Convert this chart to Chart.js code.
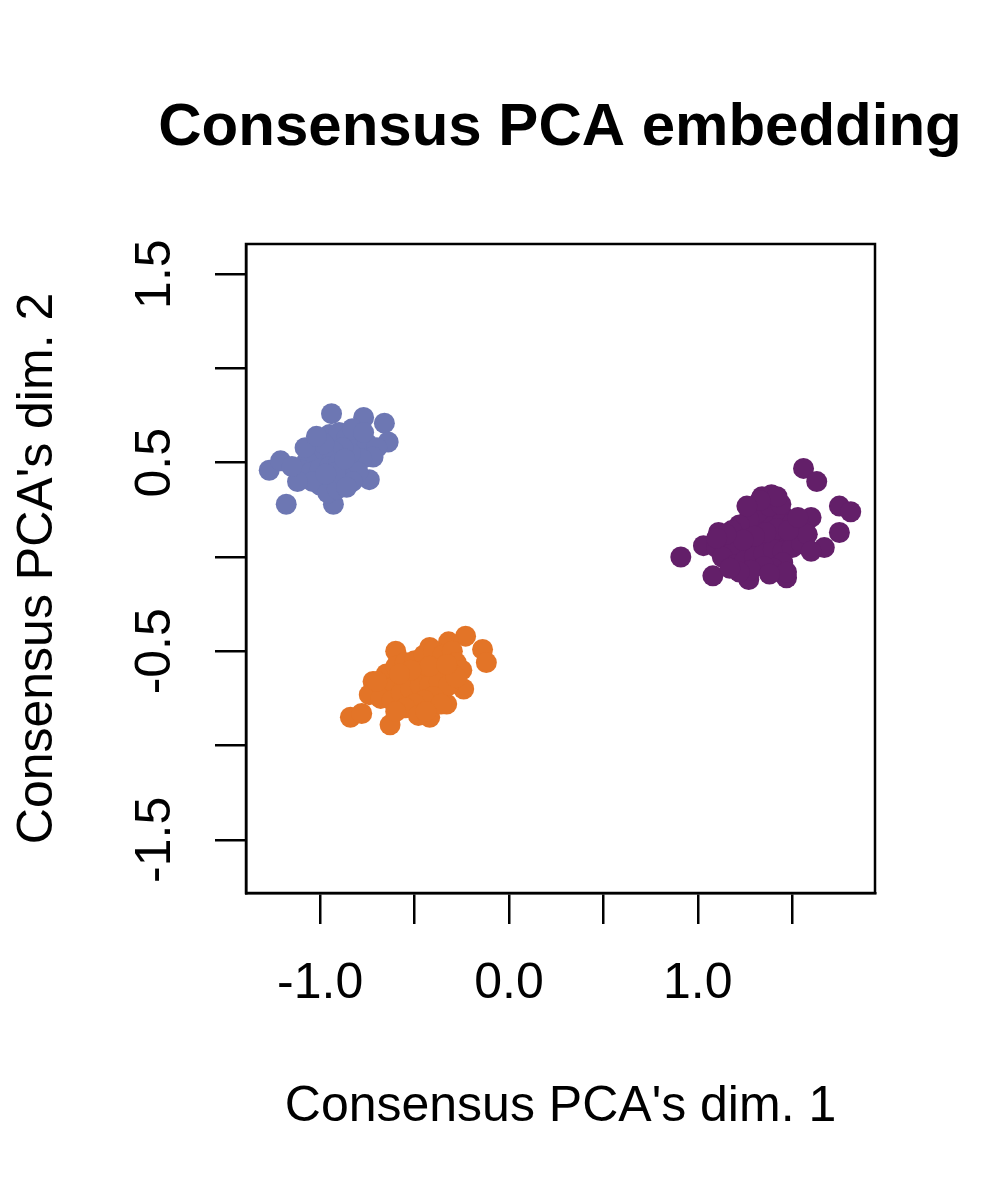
<!DOCTYPE html>
<html>
<head>
<meta charset="utf-8">
<script src="https://cdn.jsdelivr.net/npm/chart.js@4/dist/chart.umd.min.js"></script>
<style>
  html, body { margin: 0; padding: 0; background: #ffffff; }
  #wrap { width: 1000px; height: 1200px; }
</style>
</head>
<body>
<div id="wrap"><canvas id="c" width="1000" height="1200"></canvas></div>
<script>
// ---- data (Consensus PCA dim. 1, dim. 2) ----
const groupNames = ['Group 1', 'Group 2', 'Group 3'];
const groupColors = ['#6D77B3', '#E37427', '#631F69'];

const group1Points = [
  [-0.94, 0.76], [-0.77, 0.74], [-0.66, 0.71], [-0.64, 0.61], [-1.27, 0.46],
  [-1.21, 0.51], [-0.74, 0.41], [-1.18, 0.28], [-0.93, 0.28], [-1.00, 0.62],
  [-0.95, 0.65], [-0.90, 0.66], [-0.86, 0.63], [-0.80, 0.62], [-0.75, 0.60],
  [-0.70, 0.58], [-0.72, 0.53], [-0.78, 0.52], [-0.84, 0.55], [-0.88, 0.58],
  [-0.93, 0.56], [-0.98, 0.54], [-1.03, 0.57], [-1.07, 0.51], [-1.10, 0.46],
  [-1.05, 0.45], [-1.00, 0.47], [-0.95, 0.48], [-0.90, 0.50], [-0.85, 0.47],
  [-0.80, 0.45], [-0.88, 0.42], [-0.94, 0.40], [-1.00, 0.38], [-1.04, 0.40],
  [-1.12, 0.40], [-0.96, 0.34], [-0.91, 0.36], [-0.83, 0.40], [-0.98, 0.60],
  [-0.83, 0.68], [-0.77, 0.66], [-1.08, 0.58], [-0.92, 0.45], [-0.87, 0.52],
  [-0.97, 0.44], [-1.15, 0.48], [-1.02, 0.64], [-0.86, 0.37]
];

const group2Points = [
  [-0.23, -0.42], [-0.14, -0.49], [-0.12, -0.56], [-0.60, -0.50], [-0.84, -0.85],
  [-0.78, -0.83], [-0.63, -0.89], [-0.42, -0.85], [-0.33, -0.78], [-0.24, -0.70],
  [-0.72, -0.66], [-0.74, -0.73], [-0.42, -0.48], [-0.32, -0.45], [-0.65, -0.62],
  [-0.60, -0.58], [-0.55, -0.56], [-0.50, -0.55], [-0.45, -0.52], [-0.40, -0.50],
  [-0.35, -0.52], [-0.30, -0.50], [-0.28, -0.56], [-0.25, -0.60], [-0.30, -0.62],
  [-0.35, -0.60], [-0.40, -0.62], [-0.45, -0.60], [-0.50, -0.63], [-0.55, -0.65],
  [-0.60, -0.68], [-0.65, -0.70], [-0.68, -0.75], [-0.62, -0.76], [-0.57, -0.72],
  [-0.52, -0.70], [-0.47, -0.68], [-0.42, -0.68], [-0.37, -0.66], [-0.32, -0.68],
  [-0.28, -0.64], [-0.40, -0.74], [-0.45, -0.76], [-0.50, -0.78], [-0.55, -0.80],
  [-0.60, -0.82], [-0.36, -0.78], [-0.48, -0.84], [-0.42, -0.58], [-0.52, -0.60],
  [-0.33, -0.57], [-0.58, -0.62], [-0.70, -0.66], [-0.44, -0.82]
];

const group3Points = [
  [1.56, 0.47], [1.63, 0.40], [1.75, 0.27], [1.81, 0.24], [1.75, 0.13],
  [1.67, 0.05], [1.60, 0.21], [0.91, 0.00], [1.08, -0.10], [1.27, -0.12],
  [1.47, -0.11], [1.39, 0.33], [1.34, 0.32], [1.03, 0.06], [1.11, 0.13],
  [1.10, 0.05], [1.15, 0.08], [1.20, 0.10], [1.25, 0.12], [1.30, 0.15],
  [1.35, 0.18], [1.40, 0.20], [1.45, 0.22], [1.50, 0.18], [1.55, 0.15],
  [1.52, 0.10], [1.48, 0.08], [1.43, 0.12], [1.38, 0.10], [1.33, 0.08],
  [1.28, 0.06], [1.23, 0.04], [1.18, 0.02], [1.13, 0.00], [1.20, -0.04],
  [1.25, -0.02], [1.30, 0.00], [1.35, 0.02], [1.40, 0.04], [1.45, 0.03],
  [1.50, 0.05], [1.55, 0.07], [1.58, 0.12], [1.45, -0.03], [1.40, -0.06],
  [1.35, -0.05], [1.28, -0.07], [1.22, -0.08], [1.17, -0.06], [1.32, 0.24],
  [1.38, 0.27], [1.44, 0.28], [1.27, 0.20], [1.22, 0.17], [1.18, 0.14],
  [1.42, 0.15], [1.36, 0.13], [1.30, 0.11], [1.24, 0.09], [1.48, 0.14],
  [1.53, 0.21], [1.60, 0.03], [1.42, 0.32], [1.15, 0.12], [1.10, 0.10],
  [1.33, 0.30], [1.26, 0.27], [1.47, -0.08], [1.38, -0.09]
];

const xTickLabels = ['-1.0', '0.0', '1.0'];
const yTickLabels = ['-1.5', '-0.5', '0.5', '1.5'];
const titleText = 'Consensus PCA embedding';
const xAxisTitle = "Consensus PCA's dim. 1";
const yAxisTitle = "Consensus PCA's dim. 2";

// ---- chart ----
const FONT = "'Liberation Sans', Arial, Helvetica, sans-serif";
Chart.defaults.color = '#000000';
Chart.defaults.font.family = FONT;

const allGroups = [group1Points, group2Points, group3Points];
const datasets = allGroups.map((pts, i) => ({
  label: groupNames[i],
  data: pts.map(p => ({ x: p[0], y: p[1] })),
  backgroundColor: groupColors[i],
  borderWidth: 0,
  pointRadius: 10.5,
  pointHoverRadius: 10.5
}));

const boxPlugin = {
  id: 'plotBox',
  afterDraw(chart) {
    const a = chart.chartArea;
    const ctx = chart.ctx;
    ctx.save();
    ctx.strokeStyle = '#000000';
    ctx.lineWidth = 2.5;
    ctx.strokeRect(a.left, a.top, a.right - a.left, a.bottom - a.top);
    ctx.restore();
  }
};

function fmt(v) { return (Math.round(v * 10) / 10).toFixed(1).replace('-0.0', '0.0'); }

const gridOpts = { display: true, drawOnChartArea: false, drawTicks: true, tickLength: 31, tickWidth: 2.5, lineWidth: 2.5, tickColor: '#000000', color: '#000000' };

new Chart(document.getElementById('c'), {
  type: 'scatter',
  data: { datasets },
  plugins: [boxPlugin],
  options: {
    responsive: false,
    animation: false,
    devicePixelRatio: 1,
    layout: { padding: { left: 120, right: 0, top: 0, bottom: 0 } },
    plugins: {
      legend: { display: false },
      tooltip: { enabled: false },
      title: {
        display: true,
        text: titleText,
        color: '#000000',
        font: { family: FONT, size: 60, weight: 'bold', lineHeight: 1.2 },
        padding: { top: 92, bottom: 80 }
      }
    },
    scales: {
      x: {
        type: 'linear',
        position: 'bottom',
        min: -1.393,
        max: 1.9386,
        afterFit(s) { s.height = 307; },
        grid: gridOpts,
        border: { display: true, color: '#000000', width: 2.5 },
        ticks: {
          stepSize: 0.5,
          includeBounds: false,
          autoSkip: false,
          maxRotation: 0,
          minRotation: 0,
          padding: 30,
          color: '#000000',
          font: { family: FONT, size: 50, lineHeight: 1.2 },
          callback: (v) => xTickLabels.includes(fmt(v)) ? fmt(v) : ''
        },
        title: {
          display: true,
          text: xAxisTitle,
          color: '#000000',
          font: { family: FONT, size: 50, lineHeight: 1.2 },
          padding: { top: 0, bottom: 63 }
        }
      },
      y: {
        type: 'linear',
        position: 'left',
        min: -1.782,
        max: 1.660,
        afterFit(s) { s.width = 126; },
        grid: gridOpts,
        border: { display: true, color: '#000000', width: 2.5 },
        ticks: {
          stepSize: 0.5,
          includeBounds: false,
          autoSkip: false,
          minRotation: 90,
          maxRotation: 90,
          crossAlign: 'center',
          padding: 16,
          color: '#000000',
          font: { family: FONT, size: 50, lineHeight: 1.2 },
          callback: (v) => yTickLabels.includes(fmt(v)) ? fmt(v) : ''
        },
        title: {
          display: true,
          text: yAxisTitle,
          color: '#000000',
          font: { family: FONT, size: 50, lineHeight: 1.2 },
          padding: { top: -112, bottom: 0 }
        }
      },
      yR: {
        type: 'linear',
        position: 'right',
        display: true,
        afterFit(s) { s.width = 125; },
        grid: { display: false },
        border: { display: false },
        ticks: { display: false },
        title: { display: false }
      }
    }
  }
});
</script>
</body>
</html>
